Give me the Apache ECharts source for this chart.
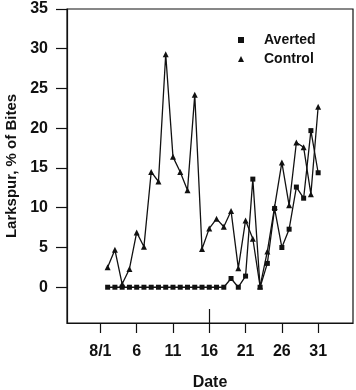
<!DOCTYPE html>
<html>
<head>
<meta charset="utf-8">
<script src="https://cdn.jsdelivr.net/npm/echarts@6/dist/echarts.min.js"></script>
<style>
  html, body { margin: 0; padding: 0; background: #fff; }
  #chart { width: 356px; height: 390px; }
</style>
</head>
<body>
<div id="chart"></div>
<script>
// days of August (8/2 .. 8/31)
var days = [2, 3, 4, 5, 6, 7, 8, 9, 10, 11, 12, 13, 14, 15, 16, 17, 18, 19, 20, 21, 22, 23, 24, 25, 26, 27, 28, 29, 30, 31];
var averted = [0, 0, 0, 0, 0, 0, 0, 0, 0, 0, 0, 0, 0, 0, 0, 0, 0, 1.1, 0, 1.4, 13.6, 0, 3.0, 9.9, 5.0, 7.3, 12.6, 11.2, 19.7, 14.4];
var control = [2.5, 4.7, 0.4, 2.3, 6.9, 5.1, 14.5, 13.3, 29.3, 16.4, 14.5, 12.2, 24.2, 4.8, 7.4, 8.6, 7.6, 9.6, 2.4, 8.4, 6.1, 0.1, 4.5, 10.1, 15.7, 10.3, 18.2, 17.6, 11.7, 22.7];
var xTicks = [1, 6, 11, 16, 21, 26, 31];
var yTicks = [0, 5, 10, 15, 20, 25, 30, 35];

var font = '"Liberation Sans", Arial, sans-serif';

function pairs(vals) {
    return days.map(function (d, i) { return [d, vals[i]]; });
}

var myChart = echarts.init(document.getElementById('chart'));

var option = {
    animation: false,
    backgroundColor: '#fff',
    grid: {
        left: 67, right: 3, top: 9, bottom: 67,
        outerBoundsMode: 'none',
        containLabel: false,
        show: true,
        borderColor: '#111',
        borderWidth: 1.2
    },
    legend: {
        orient: 'vertical',
        left: 233,
        top: 28,
        itemWidth: 6,
        itemHeight: 6,
        itemGap: 5,
        textStyle: {
            fontFamily: font, fontWeight: 'bold', fontSize: 14, color: '#111',
            padding: [0, 0, 0, 15]
        },
        data: [
            { name: 'Averted', icon: 'rect' },
            { name: 'Control', icon: 'triangle' }
        ]
    },
    xAxis: [{
        type: 'value',
        min: -3.6,
        max: 35.8,
        name: 'Date',
        nameLocation: 'middle',
        nameGap: 52,
        nameTextStyle: { fontFamily: font, fontWeight: 'bold', fontSize: 16, color: '#111' },
        splitLine: { show: false },
        axisLine: { onZero: false, lineStyle: { color: '#111', width: 1.2 } },
        axisTick: { customValues: xTicks, length: 10, lineStyle: { color: '#111', width: 1.2 } },
        axisLabel: {
            customValues: xTicks,
            margin: 21,
            fontFamily: font, fontWeight: 'bold', fontSize: 16, color: '#111',
            formatter: function (v) { return v === 1 ? '8/1' : String(v); }
        }
    }, {
        // short inside mark at 8/16
        type: 'value',
        position: 'bottom',
        min: -3.6,
        max: 35.8,
        splitLine: { show: false },
        axisLine: { show: false, onZero: false },
        axisLabel: { show: false },
        axisTick: { customValues: [16], inside: true, length: 14, lineStyle: { color: '#111', width: 1.2 } }
    }],
    yAxis: {
        type: 'value',
        min: -4.5,
        max: 35,
        name: 'Larkspur, % of Bites',
        nameLocation: 'middle',
        nameGap: 48,
        nameTextStyle: { fontFamily: font, fontWeight: 'bold', fontSize: 15, color: '#111' },
        splitLine: { show: false },
        axisLine: { onZero: false, lineStyle: { color: '#111', width: 1.2 } },
        axisTick: { customValues: yTicks, length: 11, lineStyle: { color: '#111', width: 1.2 } },
        axisLabel: {
            customValues: yTicks,
            margin: 19,
            fontFamily: font, fontWeight: 'bold', fontSize: 16, color: '#111'
        }
    },
    series: [
        {
            name: 'Averted',
            type: 'line',
            symbol: 'rect',
            symbolSize: 5,
            itemStyle: { color: '#111' },
            lineStyle: { color: '#111', width: 1.3 },
            data: pairs(averted)
        },
        {
            name: 'Control',
            type: 'line',
            symbol: 'triangle',
            symbolSize: 6,
            itemStyle: { color: '#111' },
            lineStyle: { color: '#111', width: 1.3 },
            data: pairs(control)
        }
    ]
};

myChart.setOption(option);
</script>
</body>
</html>
